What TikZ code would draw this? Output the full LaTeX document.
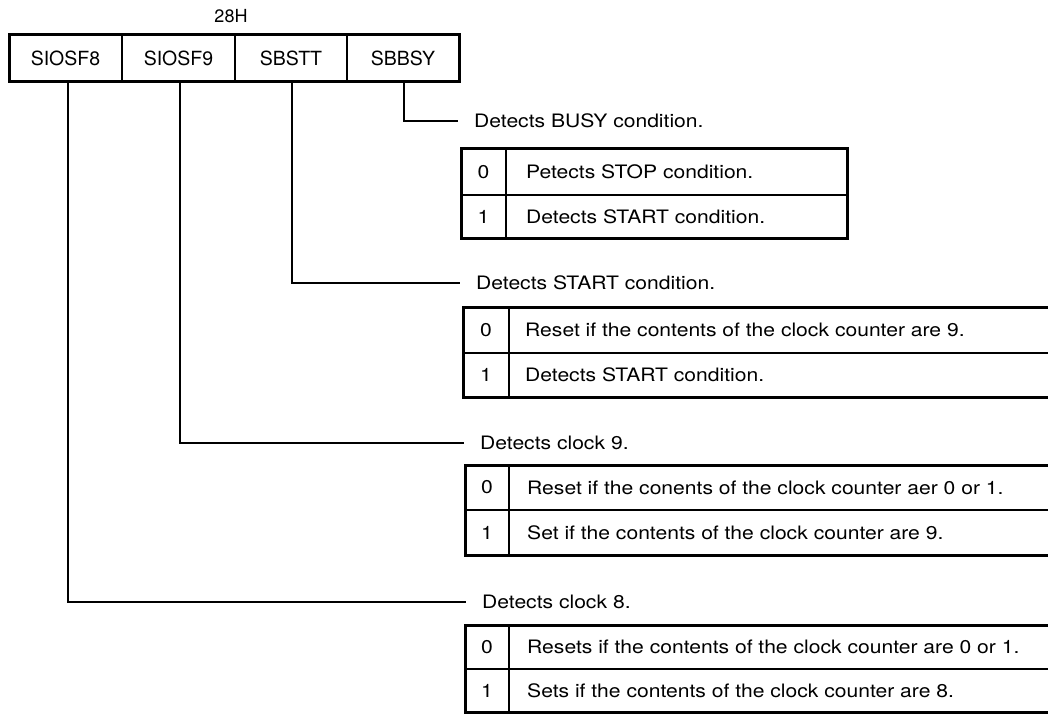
\documentclass[tikz,border=0pt]{standalone}
\usepackage{fontspec}
\setmainfont{TeX Gyre Heros}
\newfontfamily\widefont{TeX Gyre Heros}[FakeStretch=1.14]
\begin{document}
\begin{tikzpicture}[x=1pt,y=-1pt,
  cell/.style={draw,line width=1.3pt,minimum width=113pt,minimum height=47pt,inner sep=0pt,font=\fontsize{19.5}{22}\selectfont},
  lab/.style={anchor=west,inner xsep=16pt,inner ysep=0pt,font=\widefont\fontsize{18.5}{21}\selectfont},
  dig/.style={inner sep=0pt,font=\widefont\fontsize{18.5}{21}\selectfont},
  txt/.style={anchor=west,inner sep=0pt,font=\widefont\fontsize{18.5}{21}\selectfont},
  frame/.style={line width=3pt},
  rule/.style={line width=1.4pt},
  conn/.style={line width=1.1pt}]
\useasboundingbox (0,0) rectangle (1048,714);
\clip (0,0) rectangle (1048,714);

% register
\node[font=\fontsize{18}{21}\selectfont] (addr) at (231,16) {28H};
\node[cell] (c1) at (65.5,58.5) {SIOSF8};
\node[cell] (c2) at (178.5,58.5) {SIOSF9};
\node[cell] (c3) at (291,58.5) {SBSTT};
\node[cell] (c4) at (403,58.5) {SBBSY};
\draw[frame] (9,35) rectangle (459,82);

% labels
\node[lab] (l4) at (458,121) {Detects BUSY condition.};
\node[lab] (l3) at (460,283) {Detects START condition.};
\node[lab] (l2) at (464,443) {Detects clock 9.};
\node[lab] (l1) at (466,602) {Detects clock 8.};

% connectors
\draw[conn] ([xshift=1pt]c4.south) |- (l4.west);
\draw[conn] ([xshift=1pt]c3.south) |- (l3.west);
\draw[conn] ([xshift=1.5pt]c2.south) |- (l2.west);
\draw[conn] ([xshift=2.5pt]c1.south) |- (l1.west);

% table for SBBSY
\draw[rule] (461,195) -- (847,195);
\draw[rule] (506,149) -- (506,238);
\draw[frame] (461,149) rectangle (847,238);
\node[dig] (a0) at (483.5,172) {0};
\node[dig] (a1) at (483.5,216.5) {1};
\node[txt] (at0) at (526,172) {Petects STOP condition.};
\node[txt] (at1) at (526,216.5) {Detects START condition.};

% table for SBSTT
\draw[rule] (463,353) -- (1060,353);
\draw[rule] (509,307) -- (509,397);
\draw[frame] (1060,307) -- (463,307) -- (463,397) -- (1060,397);
\node[dig] (b0) at (486,330) {0};
\node[dig] (b1) at (486,375) {1};
\node[txt] (bt0) at (525,330) {Reset if the contents of the clock counter are 9.};
\node[txt] (bt1) at (525,375) {Detects START condition.};

% table for SIOSF9
\draw[rule] (465,510) -- (1060,510);
\draw[rule] (509,465) -- (509,555);
\draw[frame] (1060,465) -- (465,465) -- (465,555) -- (1060,555);
\node[dig] (d0) at (487,487.5) {0};
\node[dig] (d1) at (487,532.5) {1};
\node[txt] (dt0) at (527,487.5) {Reset if the conents of the clock counter aer 0 or 1.};
\node[txt] (dt1) at (527,532.5) {Set if the contents of the clock counter are 9.};

% table for SIOSF8
\draw[rule] (465,669) -- (1060,669);
\draw[rule] (509,625) -- (509,713);
\draw[frame] (1060,625) -- (465,625) -- (465,712) -- (1060,712);
\node[dig] (e0) at (487,647) {0};
\node[dig] (e1) at (487,691) {1};
\node[txt] (et0) at (527,647) {Resets if the contents of the clock counter are 0 or 1.};
\node[txt] (et1) at (527,691) {Sets if the contents of the clock counter are 8.};
\end{tikzpicture}
\end{document}
